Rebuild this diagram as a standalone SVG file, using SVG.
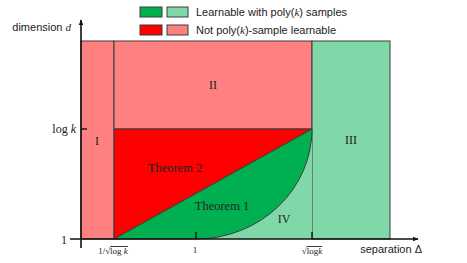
<svg xmlns="http://www.w3.org/2000/svg" width="467" height="263" viewBox="0 0 467 263">
<defs>
<style>
.reg{stroke:#3a3a3a;stroke-width:1}
.lr{fill:#FF8080}
.r{fill:#FF0000}
.dg{fill:#00B050}
.lg{fill:#80D8A8}
.sans{font-family:"Liberation Sans","DejaVu Sans",sans-serif;font-size:11px;fill:#222}
.serif{font-family:"Liberation Serif","DejaVu Serif",serif;fill:#222}
.ax{stroke:#111;stroke-width:1.6;fill:none}
.tk{stroke:#111;stroke-width:1.4}
</style>
<marker id="arr" viewBox="0 0 10 10" refX="9" refY="5" markerWidth="6" markerHeight="6" orient="auto" markerUnits="userSpaceOnUse">
<path d="M0,1 L10,5 L0,9 z" fill="#111"/>
</marker>
</defs>
<rect width="467" height="263" fill="#fff"/>

<g id="legend">
<rect x="140" y="7" width="22" height="10" class="dg reg"/>
<rect x="167" y="7" width="21" height="10" class="lg reg"/>
<text x="196" y="16" class="sans">Learnable with poly(<tspan class="serif" font-style="italic">k</tspan>) samples</text>
<rect x="140" y="25" width="22" height="10" class="r reg"/>
<rect x="167" y="25" width="21" height="10" class="lr reg"/>
<text x="196" y="34" class="sans">Not poly(<tspan class="serif" font-style="italic">k</tspan>)-sample learnable</text>
</g>

<g id="region-I">
<rect x="81" y="41" width="33" height="198" class="lr reg"/>
<text x="97" y="145" class="serif" font-size="12" text-anchor="middle">I</text>
</g>
<g id="region-II">
<rect x="114" y="41" width="198" height="88" class="lr reg"/>
<text x="213" y="89" class="serif" font-size="12" text-anchor="middle">II</text>
</g>
<g id="region-III">
<rect x="312" y="41" width="78" height="198" class="lg reg"/>
<text x="351" y="144" class="serif" font-size="12" text-anchor="middle">III</text>
</g>
<g id="theorem-2">
<path d="M114,129 L312,129 L114,239 Z" class="r reg"/>
<text x="175" y="172" class="serif" font-size="12.5" text-anchor="middle">Theorem 2</text>
</g>
<g id="region-IV">
<path d="M196,239 A116,110 0 0 0 312,129 L312,239 Z" class="lg"/>
<text x="284" y="223" class="serif" font-size="12" text-anchor="middle">IV</text>
</g>
<g id="theorem-1">
<path d="M114,239 L312,129 A116,110 0 0 1 196,239 Z" class="dg reg"/>
<text x="222" y="210" class="serif" font-size="12.5" text-anchor="middle">Theorem 1</text>
</g>

<g id="axes">
<line x1="81" y1="248" x2="81" y2="20" class="ax" marker-end="url(#arr)"/>
<line x1="70" y1="239" x2="418" y2="239" class="ax" marker-end="url(#arr)"/>
<line x1="81" y1="129" x2="87" y2="129" class="tk"/>
<line x1="196" y1="239" x2="196" y2="232" class="tk"/>
<line x1="312" y1="239" x2="312" y2="232" class="tk"/>
</g>

<g id="labels">
<text x="71" y="31" class="sans" text-anchor="end">dimension <tspan class="serif" font-style="italic">d</tspan></text>
<text x="76" y="133" class="serif" font-size="12" text-anchor="end">log <tspan font-style="italic">k</tspan></text>
<text x="67" y="244" class="serif" font-size="12" text-anchor="end">1</text>
<text x="422" y="253" class="sans" text-anchor="end">separation Δ</text>
<text x="113" y="254" class="serif" font-size="9" text-anchor="middle">1/√<tspan text-decoration="overline">log <tspan font-style="italic">k</tspan></tspan></text>
<text x="195" y="253" class="serif" font-size="9" text-anchor="middle">1</text>
<text x="312" y="254" class="serif" font-size="9" text-anchor="middle">√<tspan text-decoration="overline">log<tspan font-style="italic">k</tspan></tspan></text>
</g>
</svg>
